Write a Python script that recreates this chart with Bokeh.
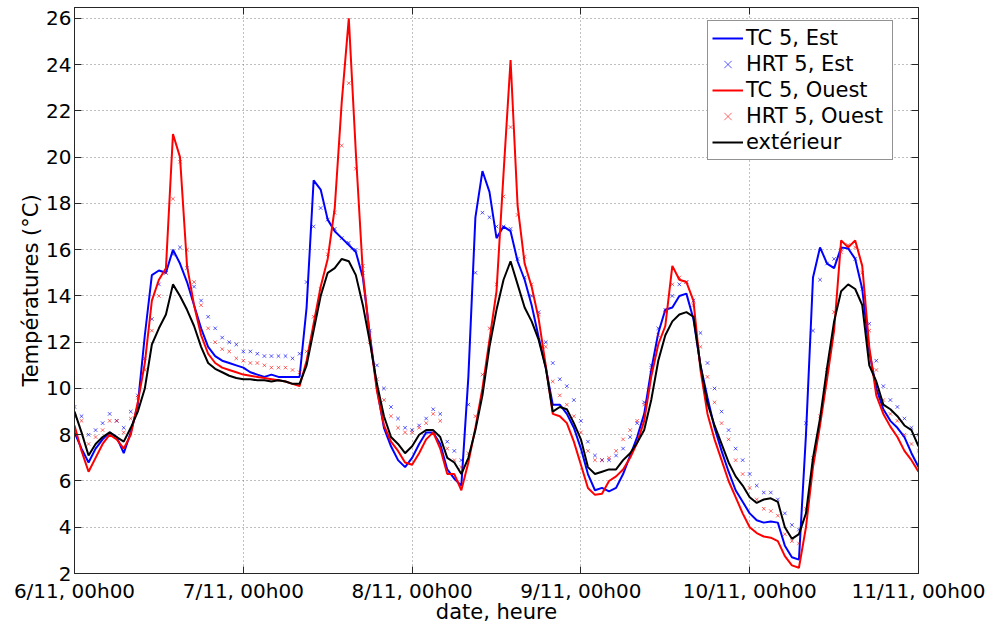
from bokeh.plotting import figure
from bokeh.models import Range1d, FixedTicker, LinearAxis, Legend, LegendItem
from bokeh.embed import file_html
from bokeh.resources import INLINE

# time in hours since 6/11 00h00
hours = list(range(121))

day_ticks = [0, 24, 48, 72, 96, 120]
day_labels = ["6/11, 00h00", "7/11, 00h00", "8/11, 00h00",
              "9/11, 00h00", "10/11, 00h00", "11/11, 00h00"]
temp_ticks = [2, 4, 6, 8, 10, 12, 14, 16, 18, 20, 22, 24, 26]

tc_est = [
    8.1, 7.4, 6.8, 7.4, 7.8, 8.1, 7.9, 7.2, 8.1, 9.3,
    12.3, 14.9, 15.1, 15.0, 16.0, 15.4, 14.6, 13.6, 12.6, 11.8,
    11.4, 11.2, 11.1, 11.0, 10.9, 10.7, 10.6, 10.5, 10.6, 10.5,
    10.5, 10.5, 10.5, 13.5, 19.0, 18.6, 17.3, 16.8, 16.5, 16.2,
    15.9, 14.8, 12.3, 10.0, 8.3, 7.5, 6.9, 6.6, 7.0, 7.6,
    8.1, 8.1, 7.6, 6.5, 6.1, 5.8, 10.5, 17.4, 19.4, 18.5,
    16.5, 17.0, 16.8, 15.5, 14.7, 13.6, 12.2, 10.9, 9.3, 9.3,
    8.9, 8.3, 7.4, 6.3, 5.6, 5.7, 5.55, 5.7, 6.3, 7.1,
    7.9, 8.9, 10.8, 12.4, 13.4, 13.5, 14.0, 14.1, 13.0, 11.0,
    9.6, 8.3, 7.3, 6.4, 5.6, 5.1, 4.6, 4.3, 4.2, 4.25,
    4.2, 3.2, 2.7, 2.6, 8.0, 14.8, 16.1, 15.4, 15.2, 16.1,
    16.05, 15.6, 14.3, 11.6, 10.0, 9.1, 8.6, 8.3, 7.9, 7.2,
    6.6]

hrt_est = [
    9.2, 8.8, 8.0, 8.2, 8.5, 8.9, 8.6, 8.3, 9.0, 9.7,
    11.3, 13.0, 14.5, 15.0, 15.8, 16.1, 15.2, 14.4, 13.8, 13.1,
    12.6, 12.2, 12.0, 11.9, 11.6, 11.6, 11.5, 11.4, 11.4, 11.4,
    11.4, 11.3, 11.5, 14.6, 17.0, 17.8, 17.3, 16.9, 16.5, 16.3,
    16.0, 15.0, 12.5, 11.0, 10.0, 9.2, 8.7, 8.3, 8.2, 8.4,
    8.7, 9.1, 8.9, 7.7, 7.3, 6.9, 9.3, 15.0, 17.6, 17.4,
    17.0, 17.0, 16.9, 15.6, 14.8, 14.0, 13.3, 12.0, 11.1, 10.4,
    10.1, 9.5, 8.6, 7.7, 7.1, 6.9, 6.9, 7.1, 7.4, 7.9,
    8.5, 9.4, 11.0, 12.6, 13.4, 14.0, 14.5, 14.6, 13.8, 12.4,
    11.1, 10.0, 9.0, 8.2, 7.4, 6.9, 6.3, 5.8, 5.5, 5.5,
    5.2, 4.6, 4.1, 3.9, 8.5, 12.5, 14.7, 15.4, 15.6, 16.0,
    16.1, 15.6, 14.3, 12.8, 11.2, 10.1, 9.5, 9.2, 8.7, 8.3,
    8.0]

tc_ouest = [
    8.4, 7.3, 6.4, 7.0, 7.6, 8.0, 7.8, 7.4, 8.0, 9.4,
    11.1, 13.8, 14.7, 15.2, 21.0, 20.0, 15.3, 13.6, 12.3, 11.5,
    11.1, 10.9, 10.8, 10.7, 10.6, 10.55, 10.5, 10.45, 10.4, 10.35,
    10.3, 10.2, 10.1, 11.2, 12.8, 14.4, 15.6, 17.8, 22.4, 26.0,
    20.2, 15.0, 12.2, 9.9, 8.4, 7.7, 7.3, 6.8, 6.7, 7.2,
    7.8, 8.1, 7.4, 6.3, 6.3, 5.6, 6.8, 8.3, 10.0, 12.1,
    14.2, 19.3, 24.2, 17.9, 15.4, 14.4, 13.0, 11.0, 8.9, 8.8,
    8.5, 7.7, 6.7, 5.7, 5.4, 5.45, 6.0, 6.2, 6.5, 7.0,
    7.65, 8.6, 10.5, 11.9, 12.7, 15.3, 14.7, 14.6, 13.8, 10.8,
    8.9, 7.8, 6.9, 6.0, 5.3, 4.6, 4.0, 3.75, 3.6, 3.55,
    3.4, 2.75, 2.35, 2.25, 4.0, 6.6, 8.4, 10.4, 12.5, 16.4,
    16.1, 16.4, 15.3, 11.8, 9.7, 8.9, 8.35, 7.9, 7.3, 6.9,
    6.4]

hrt_ouest = [
    8.8, 8.6, 7.6, 7.9, 8.2, 8.6, 8.6, 8.1, 8.7, 9.6,
    10.8, 12.5, 14.0, 15.0, 18.2, 19.8, 16.0, 14.6, 13.6, 12.6,
    12.0, 11.7, 11.6, 11.3, 11.2, 11.1, 11.1, 11.0, 10.9, 10.9,
    10.9, 10.8, 10.7, 11.6, 13.1, 14.3, 15.8, 17.6, 20.5, 23.2,
    19.5, 15.3, 12.0, 10.4, 9.5, 8.8, 8.3, 8.1, 8.1, 8.3,
    8.5, 8.9, 8.6, 7.4, 6.9, 6.6, 7.2, 8.8, 10.6, 12.6,
    14.5, 18.3, 21.3, 17.5, 15.7, 14.5, 13.2, 11.8, 10.3, 9.7,
    9.3, 8.8, 8.1, 7.3, 6.9, 6.9, 7.0, 7.3, 7.8, 8.2,
    8.6, 9.3, 10.8, 12.3, 13.3, 14.5, 14.8, 14.6, 13.6, 11.8,
    10.5, 9.4, 8.5, 7.8, 6.9, 6.3, 5.7, 5.2, 4.8, 4.7,
    4.5, 3.7, 3.4, 3.3, 4.8, 7.0, 8.8, 10.8, 13.3, 15.9,
    16.2, 16.1, 15.0, 12.5, 10.8, 9.5, 8.9, 8.6, 8.0, 7.6,
    7.3]

exterieur = [
    9.0, 8.1, 7.1, 7.6, 7.9, 8.1, 7.9, 7.7, 8.3, 9.0,
    10.0, 11.9, 12.6, 13.2, 14.5, 14.0, 13.4, 12.7, 11.8, 11.1,
    10.85, 10.7, 10.55, 10.45, 10.4, 10.4, 10.35, 10.35, 10.3, 10.35,
    10.3, 10.2, 10.2, 11.0, 12.5, 14.0, 15.0, 15.2, 15.6, 15.5,
    14.9, 13.6, 12.0, 10.2, 8.8, 7.9, 7.6, 7.2, 7.5, 8.0,
    8.2, 8.2, 7.9, 7.0, 6.8, 6.3, 7.0, 8.2, 9.7, 11.8,
    13.4, 14.7, 15.5, 14.5, 13.5, 12.9, 12.1, 10.9, 9.0, 9.2,
    9.1, 8.5, 7.8, 6.6, 6.3, 6.4, 6.5, 6.5, 6.9, 7.2,
    7.65, 8.2, 9.5, 11.2, 12.3, 12.9, 13.2, 13.3, 13.1, 11.0,
    9.35, 8.4, 7.6, 6.8, 6.2, 5.8, 5.3, 5.05, 5.2, 5.25,
    5.1, 4.0, 3.5, 3.7, 4.6, 7.0, 8.7, 10.9, 12.9, 14.2,
    14.5, 14.3, 13.6, 11.0, 10.3, 9.3, 9.1, 8.8, 8.4, 8.2,
    7.5]

FONT = "DejaVu Sans"
AX = "#262626"

p = figure(width=990, height=626, output_backend="svg", toolbar_location=None,
           x_range=Range1d(0, 120), y_range=Range1d(2, 26.47),
           min_border_left=74, min_border_right=72, min_border_top=7,
           min_border_bottom=52)
p.background_fill_color = "white"
p.border_fill_color = "white"
p.outline_line_color = AX
p.outline_line_width = 1

r1 = p.line(hours, tc_est, line_color="#0000ff", line_width=2)
r2 = p.scatter(hours, hrt_est, marker="x", size=5, line_color="#0000ff",
               line_alpha=0.65, line_width=1)
r3 = p.line(hours, tc_ouest, line_color="#ff0000", line_width=2)
r4 = p.scatter(hours, hrt_ouest, marker="x", size=5, line_color="#ff0000",
               line_alpha=0.6, line_width=1)
r5 = p.line(hours, exterieur, line_color="black", line_width=2)

# axes
xa = p.xaxis[0]
xa.ticker = FixedTicker(ticks=day_ticks)
xa.major_label_overrides = {t: l for t, l in zip(day_ticks, day_labels)}
ya = p.yaxis[0]
ya.ticker = FixedTicker(ticks=temp_ticks)
xa.axis_label = "date, heure"
ya.axis_label = "Températures (°C)"
for ax in (xa, ya):
    ax.major_label_text_font = FONT
    ax.major_label_text_font_size = "20px"
    ax.major_label_text_color = "black"
    ax.axis_label_text_font = FONT
    ax.axis_label_text_font_size = "21px"
    ax.axis_label_text_font_style = "normal"
    ax.axis_label_text_color = "black"
    ax.axis_line_color = AX
    ax.major_tick_line_color = AX
    ax.major_tick_in = 7
    ax.major_tick_out = 0
    ax.minor_tick_line_color = None
xa.major_label_standoff = 5
xa.axis_label_standoff = -6
ya.major_label_standoff = 3
ya.axis_label_standoff = 0

for loc, ticks in (("above", day_ticks), ("right", temp_ticks)):
    ax = LinearAxis(ticker=FixedTicker(ticks=ticks),
                    major_label_text_font_size="1px", major_label_text_color=None,
                    major_label_standoff=0, major_tick_in=7, major_tick_out=0,
                    minor_tick_line_color=None, axis_line_color=AX,
                    major_tick_line_color=AX)
    p.add_layout(ax, loc)

p.xgrid.ticker = FixedTicker(ticks=day_ticks)
p.ygrid.ticker = FixedTicker(ticks=temp_ticks)
for g in (p.xgrid[0], p.ygrid[0]):
    g.grid_line_color = "#808080"
    g.grid_line_dash = "1 3"
    g.grid_line_width = 1

legend = Legend(items=[
    LegendItem(label="TC 5, Est", renderers=[r1]),
    LegendItem(label="HRT 5, Est", renderers=[r2]),
    LegendItem(label="TC 5, Ouest", renderers=[r3]),
    LegendItem(label="HRT 5, Ouest", renderers=[r4]),
    LegendItem(label="extérieur", renderers=[r5]),
], location=(633, 413))
legend.label_text_font = FONT
legend.label_text_font_size = "21px"
legend.label_text_color = "black"
legend.border_line_color = AX
legend.border_line_width = 1
legend.background_fill_color = "white"
legend.background_fill_alpha = 1
legend.padding = 4
legend.spacing = 0
legend.margin = 0
legend.label_height = 26
legend.label_width = 142
legend.glyph_height = 26
legend.glyph_width = 31
legend.label_standoff = 3
p.add_layout(legend)

open("out.html", "w").write(file_html(p, INLINE))
